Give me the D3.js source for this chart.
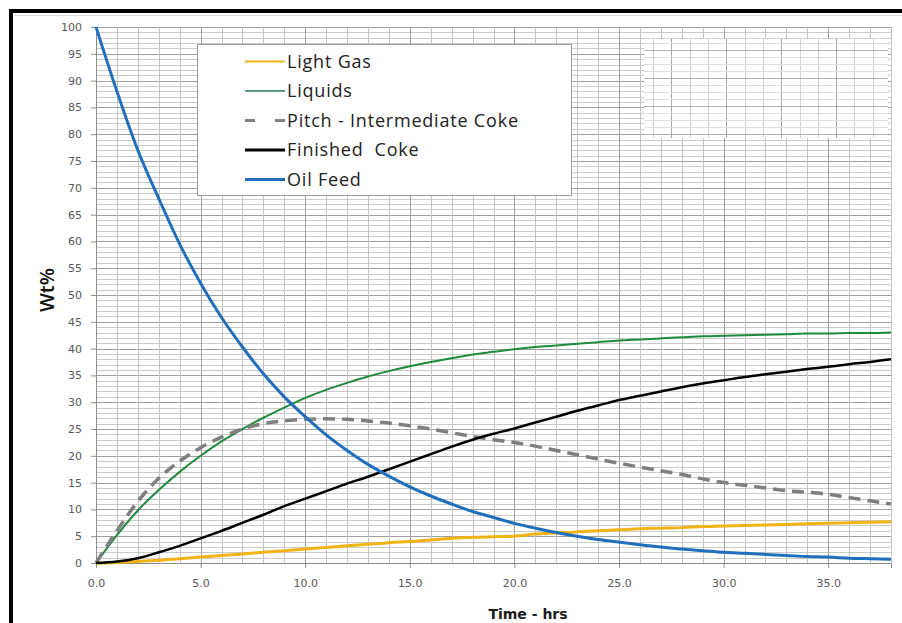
<!DOCTYPE html>
<html>
  <head>
    <style>
      body {
        margin: 0;
        background: #ffffff;
      }
      svg text {
        font-family: "DejaVu Sans", sans-serif;
      }
      .tick text {
        fill: #595959;
        font-size: 11px;
      }
      .legend text {
        font-family: "Open Sans", sans-serif;
        font-size: 18px;
        letter-spacing: 0.8px;
        fill: #222;
        white-space: pre;
      }
    </style>
    <script src="https://d3js.org/d3.v7.min.js"></script>
  </head>

  <body>
    <script>
      const width = 902;
      const height = 623;

      // hours on the x axis
      const hours = [
        0, 1, 2, 3, 4, 5, 6, 7, 8, 9, 10, 11, 12, 13, 14, 15, 16, 17, 18, 19,
        20, 21, 22, 23, 24, 25, 26, 27, 28, 29, 30, 31, 32, 33, 34, 35, 36, 37, 38,
      ];

      const lightGas = [
        0, 0.1, 0.3, 0.5, 0.8, 1.1, 1.4, 1.7, 2.0, 2.3, 2.6, 2.9, 3.2, 3.5, 3.8,
        4.0, 4.3, 4.6, 4.8, 4.9, 5.0, 5.4, 5.6, 5.8, 6.0, 6.2, 6.4, 6.5, 6.6, 6.8,
        6.9, 7.0, 7.1, 7.2, 7.3, 7.4, 7.5, 7.6, 7.7,
      ];
      const liquids = [
        0, 5.2, 9.8, 13.6, 17.0, 20.0, 22.7, 25.0, 27.1, 29.0, 30.8, 32.3, 33.6,
        34.8, 35.8, 36.7, 37.5, 38.2, 38.9, 39.4, 39.9, 40.3, 40.6, 40.9, 41.2,
        41.5, 41.7, 41.9, 42.1, 42.3, 42.4, 42.5, 42.6, 42.7, 42.8, 42.8, 42.9,
        42.9, 43.0,
      ];
      const pitch = [
        0, 6.0, 11.5, 15.8, 19.0, 21.5, 23.5, 25.0, 26.0, 26.5, 26.8, 26.9, 26.8,
        26.5, 26.1, 25.6, 25.0, 24.3, 23.6, 23.0, 22.5, 21.8, 21.0, 20.2, 19.4,
        18.6, 17.9, 17.2, 16.5, 15.7, 15.0, 14.5, 14.0, 13.5, 13.2, 12.8, 12.2,
        11.6, 11.0,
      ];
      const finishedCoke = [
        0, 0.3, 0.9, 2.0, 3.2, 4.6, 6.0, 7.5, 9.0, 10.6, 12.0, 13.4, 14.8, 16.1,
        17.5, 18.9, 20.3, 21.7, 23.0, 24.1, 25.1, 26.2, 27.3, 28.4, 29.4, 30.4,
        31.2, 32.0, 32.8, 33.5, 34.1, 34.7, 35.2, 35.7, 36.2, 36.6, 37.1, 37.5,
        38.0,
      ];
      const oilFeed = [
        100, 88, 77, 68, 59.5, 52.2, 45.8, 40.3, 35.3, 31.0, 27.3, 23.9, 21.0,
        18.4, 16.2, 14.2, 12.5, 11.0, 9.6, 8.5, 7.4, 6.5, 5.7, 5.0, 4.4, 3.9, 3.4,
        3.0, 2.6, 2.3, 2.0, 1.8, 1.6, 1.4, 1.2, 1.1, 0.9, 0.8, 0.7,
      ];

      const seriesNames = [
        "Light Gas",
        "Liquids",
        "Pitch - Intermediate Coke",
        "Finished  Coke",
        "Oil Feed",
      ];

      const xTicks = [0, 5, 10, 15, 20, 25, 30, 35];
      const yTicks = [
        0, 5, 10, 15, 20, 25, 30, 35, 40, 45, 50, 55, 60, 65, 70, 75, 80, 85, 90,
        95, 100,
      ];

      const series = [
        { name: seriesNames[0], values: lightGas, color: "#f2b318", width: 3, legendWidth: 2 },
        { name: seriesNames[1], values: liquids, color: "#1f8a3c", width: 2, legendColor: "#5b9c7c", legendWidth: 2 },
        { name: seriesNames[2], values: pitch, color: "#7f7f7f", width: 3.5, dash: "12,7", legendDash: "10,20", legendWidth: 3 },
        { name: seriesNames[3], values: finishedCoke, color: "#000000", width: 2.5, legendWidth: 3 },
        { name: seriesNames[4], values: oilFeed, color: "#1f6fbd", width: 3, legendWidth: 3 },
      ];

      const svg = d3
        .select("body")
        .append("svg")
        .attr("width", width)
        .attr("height", height);

      const x = d3.scaleLinear().domain([0, 38]).range([96, 891]);
      const y = d3.scaleLinear().domain([0, 100]).range([563, 27]);

      // grid, every unit
      svg
        .append("g")
        .selectAll("line")
        .data(d3.range(0, 101, 1))
        .join("line")
        .attr("x1", x(0))
        .attr("x2", x(38))
        .attr("y1", (d) => Math.round(y(d)) + 0.5)
        .attr("y2", (d) => Math.round(y(d)) + 0.5)
        .attr("stroke", (d) => (d % 5 === 0 ? "#9f9f9f" : "#cbcbcb"))
        .attr("stroke-width", 1);

      svg
        .append("g")
        .selectAll("line")
        .data(d3.range(1, 39, 1))
        .join("line")
        .attr("x1", (d) => Math.round(x(d)) + 0.5)
        .attr("x2", (d) => Math.round(x(d)) + 0.5)
        .attr("y1", y(0))
        .attr("y2", y(100))
        .attr("stroke", (d) => (d % 5 === 0 ? "#a0a0a0" : "#c4c4c4"))
        .attr("stroke-width", 1);

      // odd white patch with its own grid, top right
      const patch = { x0: 26.2, x1: 37.85, y0: 79.3, y1: 97.8 };
      const pg = svg.append("g");
      pg.append("rect")
        .attr("x", x(patch.x0))
        .attr("y", y(patch.y1))
        .attr("width", x(patch.x1) - x(patch.x0))
        .attr("height", y(patch.y0) - y(patch.y1))
        .attr("fill", "#fff");
      pg.selectAll("line.v")
        .data(d3.range(x(patch.x0) + 9, x(patch.x1), 18.3))
        .join("line")
        .attr("class", "v")
        .attr("x1", (d) => Math.round(d) + 0.5)
        .attr("x2", (d) => Math.round(d) + 0.5)
        .attr("y1", y(patch.y1))
        .attr("y2", y(patch.y0))
        .attr("stroke", (d, i) => (i % 3 === 1 ? "#a6a6a6" : "#d0d0d0"));
      pg.selectAll("line.h")
        .data(d3.range(patch.y0 + 0.8, patch.y1, 1.3))
        .join("line")
        .attr("class", "h")
        .attr("x1", x(patch.x0))
        .attr("x2", x(patch.x1))
        .attr("y1", (d) => Math.round(y(d)) + 0.5)
        .attr("y2", (d) => Math.round(y(d)) + 0.5)
        .attr("stroke", (d, i) => (i % 4 === 0 ? "#b0b0b0" : "#dedede"));

      // axes
      const xAxis = d3
        .axisBottom(x)
        .tickValues(xTicks)
        .tickFormat(d3.format(".1f"))
        .tickSize(5)
        .tickPadding(11);
      const gx = svg
        .append("g")
        .attr("transform", "translate(0," + y(0) + ")")
        .call(xAxis);
      gx.select(".domain").attr("stroke", "#8c8c8c");
      gx.selectAll(".tick line").attr("stroke", "#8c8c8c");

      const yAxis = d3.axisLeft(y).tickValues(yTicks).tickSize(5).tickPadding(9);
      const gy = svg
        .append("g")
        .attr("transform", "translate(" + x(0) + ",0)")
        .call(yAxis);
      gy.select(".domain").attr("stroke", "#8c8c8c");
      gy.selectAll(".tick line").attr("stroke", "#8c8c8c");

      // lines
      const line = d3
        .line()
        .x((d, i) => x(hours[i]))
        .y((d) => y(d))
        .curve(d3.curveMonotoneX);

      svg
        .append("g")
        .selectAll("path")
        .data(series)
        .join("path")
        .attr("d", (s) => line(s.values))
        .attr("fill", "none")
        .attr("stroke", (s) => s.color)
        .attr("stroke-width", (s) => s.width)
        .attr("stroke-dasharray", (s) => s.dash || null)
        .attr("stroke-linejoin", "round");

      // legend
      const legend = svg.append("g").attr("class", "legend");
      legend
        .append("rect")
        .attr("x", 197.5)
        .attr("y", 44.5)
        .attr("width", 374)
        .attr("height", 151)
        .attr("fill", "#fff")
        .attr("stroke", "#9a9a9a")
        .attr("stroke-width", 1);

      const items = legend
        .selectAll("g.item")
        .data(series)
        .join("g")
        .attr("class", "item")
        .attr("transform", (s, i) => "translate(245," + (61.5 + i * 29.5) + ")");
      items
        .append("line")
        .attr("x1", 0)
        .attr("x2", 40)
        .attr("stroke", (s) => s.legendColor || s.color)
        .attr("stroke-width", (s) => s.legendWidth)
        .attr("stroke-dasharray", (s) => s.legendDash || null);
      items
        .append("text")
        .attr("x", 42)
        .attr("dy", "0.36em")
        .text((s) => s.name);

      // axis titles
      svg
        .append("text")
        .attr("x", 528)
        .attr("y", 619)
        .attr("text-anchor", "middle")
        .style("font-size", "14px")
        .style("font-weight", "bold")
        .attr("fill", "#1a1a1a")
        .text("Time - hrs");

      svg
        .append("text")
        .attr("transform", "translate(54,290) rotate(-90)")
        .attr("text-anchor", "middle")
        .style("font-family", "'Open Sans', sans-serif")
        .style("font-size", "20px")
        .style("font-weight", "600")
        .attr("fill", "#111")
        .text("Wt%");

      // frame
      svg
        .append("rect")
        .attr("x", 9)
        .attr("y", 9)
        .attr("width", width - 9)
        .attr("height", 4)
        .attr("fill", "#000");
      svg
        .append("rect")
        .attr("x", 9)
        .attr("y", 9)
        .attr("width", 4)
        .attr("height", height - 9)
        .attr("fill", "#000");
      svg
        .append("line")
        .attr("x1", 14.5)
        .attr("x2", width)
        .attr("y1", 15.5)
        .attr("y2", 15.5)
        .attr("stroke", "#d8d8d8");
    </script>
  </body>
</html>
